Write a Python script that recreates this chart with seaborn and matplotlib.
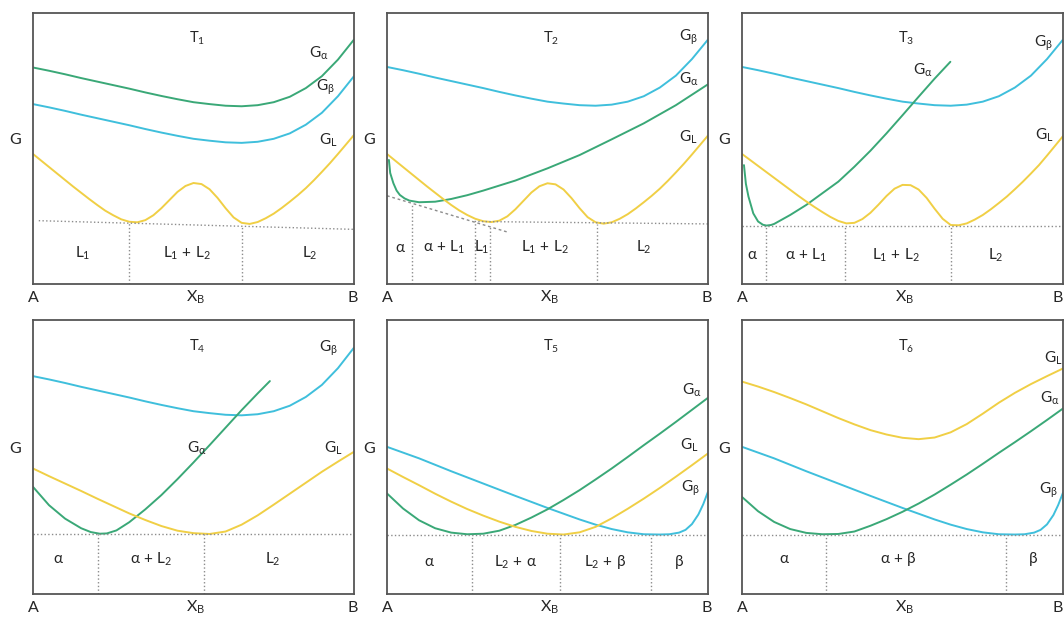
import numpy as np
import matplotlib.pyplot as plt
import seaborn as sns

sns.set_style("white")
plt.rcParams['font.family'] = ['Lato', 'DejaVu Sans']
plt.rcParams['mathtext.fontset'] = 'custom'
plt.rcParams['mathtext.rm'] = 'Lato'
plt.rcParams['mathtext.it'] = 'Lato:italic'
plt.rcParams['mathtext.fallback'] = 'stixsans'

GREEN = '#3aa877'
BLUE = '#3fbfdc'
YELLOW = '#f0cf45'
DOT = '#8c8c8c'

# sampling positions along X_B (read every 0.05 / 0.025)
grid20 = np.linspace(0, 1, 21)
grid40 = np.linspace(0, 1, 41)

# ---- T1 ----
t1_alpha = [0.799, 0.787, 0.774, 0.760, 0.747, 0.734, 0.721, 0.707, 0.694, 0.682, 0.671,
            0.664, 0.658, 0.656, 0.660, 0.671, 0.691, 0.723, 0.767, 0.828, 0.902]
t1_beta = [0.664, 0.652, 0.639, 0.625, 0.612, 0.599, 0.586, 0.572, 0.559, 0.547, 0.536,
           0.529, 0.523, 0.521, 0.525, 0.536, 0.556, 0.588, 0.632, 0.693, 0.767]
t1_liq = [0.480, 0.456, 0.432, 0.408, 0.384, 0.360, 0.337, 0.314, 0.292, 0.271, 0.254,
          0.239, 0.230, 0.228, 0.236, 0.254, 0.280, 0.310, 0.340, 0.362, 0.373,
          0.369, 0.350, 0.318, 0.280, 0.246, 0.226, 0.222, 0.229, 0.243, 0.260,
          0.281, 0.304, 0.328, 0.354, 0.383, 0.414, 0.446, 0.480, 0.515, 0.550]

# ---- T2 ----
t2_beta = [0.801, 0.789, 0.776, 0.762, 0.749, 0.736, 0.723, 0.709, 0.696, 0.684, 0.673,
           0.666, 0.660, 0.658, 0.662, 0.673, 0.693, 0.725, 0.769, 0.830, 0.902]
t2_x_alpha = [0.006, 0.01, 0.02, 0.03, 0.04, 0.055, 0.07, 0.1, 0.15, 0.2, 0.25, 0.3, 0.4, 0.5,
              0.6, 0.7, 0.8, 0.9, 1.0]
t2_alpha = [0.458, 0.410, 0.372, 0.345, 0.329, 0.316, 0.308, 0.302, 0.304, 0.314, 0.328, 0.345,
            0.382, 0.427, 0.476, 0.534, 0.593, 0.660, 0.737]
t2_liq = [0.480, 0.456, 0.432, 0.408, 0.384, 0.360, 0.337, 0.314, 0.292, 0.272, 0.255,
          0.241, 0.232, 0.229, 0.234, 0.250, 0.276, 0.307, 0.338, 0.361, 0.372,
          0.368, 0.349, 0.317, 0.280, 0.247, 0.228, 0.223, 0.228, 0.241, 0.258,
          0.279, 0.302, 0.326, 0.352, 0.381, 0.412, 0.444, 0.478, 0.513, 0.548]

# ---- T3 ----
t3_beta = [0.801, 0.789, 0.776, 0.762, 0.749, 0.736, 0.723, 0.709, 0.696, 0.684, 0.673,
           0.666, 0.660, 0.658, 0.662, 0.673, 0.693, 0.725, 0.769, 0.830, 0.902]
t3_x_alpha = [0.006, 0.012, 0.02, 0.035, 0.05, 0.065, 0.076, 0.09, 0.1, 0.15, 0.2, 0.25, 0.3,
              0.35, 0.4, 0.45, 0.5, 0.55, 0.6, 0.649]
t3_alpha = [0.439, 0.370, 0.323, 0.261, 0.231, 0.219, 0.216, 0.218, 0.222, 0.255, 0.292, 0.335,
            0.378, 0.433, 0.492, 0.556, 0.623, 0.691, 0.758, 0.820]
t3_liq = [0.480, 0.458, 0.436, 0.414, 0.392, 0.370, 0.348, 0.326, 0.305, 0.285, 0.266,
          0.248, 0.233, 0.224, 0.226, 0.240, 0.263, 0.293, 0.325, 0.352, 0.366,
          0.365, 0.349, 0.318, 0.278, 0.241, 0.218, 0.217, 0.224, 0.238, 0.255,
          0.276, 0.299, 0.323, 0.350, 0.378, 0.408, 0.439, 0.474, 0.510, 0.546]

# ---- T4 ----
t4_beta = [0.795, 0.783, 0.770, 0.756, 0.743, 0.730, 0.717, 0.703, 0.690, 0.678, 0.667,
           0.660, 0.654, 0.652, 0.656, 0.667, 0.687, 0.719, 0.763, 0.824, 0.899]
t4_x_alpha = [0, 0.05, 0.1, 0.15, 0.18, 0.208, 0.23, 0.26, 0.3, 0.35, 0.4, 0.45, 0.5, 0.55,
              0.6, 0.65, 0.7, 0.738]
t4_alpha = [0.391, 0.324, 0.275, 0.240, 0.226, 0.220, 0.221, 0.232, 0.262, 0.309, 0.361, 0.419,
            0.480, 0.543, 0.607, 0.671, 0.732, 0.777]
t4_liq = [0.458, 0.430, 0.403, 0.376, 0.348, 0.321, 0.294, 0.270, 0.248, 0.231, 0.222,
          0.219, 0.228, 0.253, 0.287, 0.326, 0.366, 0.406, 0.446, 0.483, 0.519]

# ---- T5 ----
t5_x_beta = [0, .1, .2, .3, .4, .5, .6, .65, .7, .75, .8, .85, .88, .91, .93, .95, .97, .985, 1]
t5_beta = [0.537, 0.495, 0.448, 0.403, 0.358, 0.314, 0.272, 0.253, 0.237, 0.225, 0.218, 0.217,
           0.218, 0.224, 0.234, 0.255, 0.290, 0.327, 0.373]
t5_alpha = [0.367, 0.312, 0.269, 0.240, 0.224, 0.218, 0.220, 0.231, 0.252, 0.279, 0.309,
            0.343, 0.379, 0.418, 0.458, 0.500, 0.543, 0.585, 0.628, 0.672, 0.716]
t5_liq = [0.458, 0.427, 0.397, 0.366, 0.337, 0.310, 0.286, 0.264, 0.245, 0.230, 0.220,
          0.217, 0.225, 0.245, 0.276, 0.311, 0.348, 0.387, 0.428, 0.470, 0.513]

# ---- T6 ----
t6_liq = [0.775, 0.757, 0.737, 0.715, 0.692, 0.667, 0.642, 0.619, 0.598, 0.582, 0.570,
          0.565, 0.571, 0.590, 0.620, 0.658, 0.698, 0.734, 0.766, 0.795, 0.823]
t6_x_beta = [0, .1, .2, .3, .4, .5, .6, .65, .7, .75, .8, .85, .88, .91, .93, .95, .97, .985, 1]
t6_beta = [0.537, 0.495, 0.448, 0.403, 0.358, 0.314, 0.272, 0.253, 0.237, 0.225, 0.218, 0.217,
           0.218, 0.224, 0.234, 0.254, 0.288, 0.325, 0.370]
t6_alpha = [0.354, 0.302, 0.263, 0.237, 0.223, 0.218, 0.219, 0.228, 0.249, 0.273, 0.300,
            0.330, 0.363, 0.399, 0.436, 0.475, 0.515, 0.554, 0.594, 0.635, 0.677]

# common tangents and phase boundaries (x, G at the tangent point)
t1_tangent = ([0.018, 1.0], [0.234, 0.202])
t1_bounds = [(0.298, 0.225), (0.652, 0.214)]
t2_tangent = ([0.0, 0.381], [0.326, 0.190])
t2_flat = ([0.273, 1.0], [0.231, 0.222])
t2_bounds = [(0.078, 0.301), (0.274, 0.231), (0.321, 0.211), (0.653, 0.222)]
t3_flat = ([0.0, 1.0], [0.215, 0.215])
t3_bounds = [(0.076, 0.215), (0.321, 0.215), (0.651, 0.215)]
t4_flat = ([0.0, 1.0], [0.219, 0.219])
t4_bounds = [(0.203, 0.219), (0.533, 0.219)]
t5_flat = ([0.0, 1.0], [0.217, 0.217])
t5_bounds = [(0.264, 0.217), (0.538, 0.217), (0.822, 0.217)]
t6_flat = ([0.0, 1.0], [0.217, 0.217])
t6_bounds = [(0.263, 0.217), (0.821, 0.217)]

GA = r'$\mathrm{G_{\alpha}}$'
GB = r'$\mathrm{G_{\beta}}$'
GL = r'$\mathrm{G_{L}}$'

fig = plt.figure(figsize=(10.64, 6.19), dpi=100)
lefts = [0.031, 0.3637, 0.6974]
W = 0.3017
axes = [fig.add_axes([l, 0.541, W, 0.438]) for l in lefts] + \
       [fig.add_axes([l, 0.0404, W, 0.4427]) for l in lefts]


def curve(ax, x, y, c):
    sns.lineplot(x=x, y=y, ax=ax, color=c, lw=1.4, estimator=None, sort=False)


panels = [
    ('1', [(grid20, t1_alpha, GREEN), (grid20, t1_beta, BLUE), (grid40, t1_liq, YELLOW)],
     [t1_tangent], t1_bounds,
     [(GA, 0.89, 0.85), (GB, 0.91, 0.725), (GL, 0.92, 0.53)],
     [(r'$\mathrm{L_1\,+\,L_2}$', 0.481), (r'$\mathrm{L_1}$', 0.156), (r'$\mathrm{L_2}$', 0.863)], 0.114),
    ('2', [(grid20, t2_beta, BLUE), (t2_x_alpha, t2_alpha, GREEN), (grid40, t2_liq, YELLOW)],
     [t2_tangent, t2_flat], t2_bounds,
     [(GB, 0.94, 0.91), (GA, 0.94, 0.755), (GL, 0.94, 0.54)],
     [(r'$\mathrm{\alpha}$', 0.041), (r'$\mathrm{\alpha\,+\,L_1}$', 0.179), (r'$\mathrm{L_1}$', 0.296),
      (r'$\mathrm{L_1\,+\,L_2}$', 0.493), (r'$\mathrm{L_2}$', 0.799)], 0.135),
    ('3', [(grid20, t3_beta, BLUE), (t3_x_alpha, t3_alpha, GREEN), (grid40, t3_liq, YELLOW)],
     [t3_flat], t3_bounds,
     [(GA, 0.564, 0.79), (GB, 0.938, 0.887), (GL, 0.943, 0.55)],
     [(r'$\mathrm{\alpha}$', 0.034), (r'$\mathrm{\alpha\,+\,L_1}$', 0.20), (r'$\mathrm{L_1\,+\,L_2}$', 0.48),
      (r'$\mathrm{L_2}$', 0.79)], 0.108),
    ('4', [(grid20, t4_beta, BLUE), (t4_x_alpha, t4_alpha, GREEN), (grid20, t4_liq, YELLOW)],
     [t4_flat], t4_bounds,
     [(GA, 0.509, 0.53), (GB, 0.92, 0.895), (GL, 0.935, 0.53)],
     [(r'$\mathrm{\alpha}$', 0.078), (r'$\mathrm{\alpha\,+\,L_2}$', 0.369), (r'$\mathrm{L_2}$', 0.748)], 0.128),
    ('5', [(t5_x_beta, t5_beta, BLUE), (grid20, t5_alpha, GREEN), (grid20, t5_liq, YELLOW)],
     [t5_flat], t5_bounds,
     [(GA, 0.951, 0.744), (GL, 0.941, 0.543), (GB, 0.946, 0.385)],
     [(r'$\mathrm{\alpha}$', 0.133), (r'$\mathrm{L_2\,+\,\alpha}$', 0.402), (r'$\mathrm{L_2\,+\,\beta}$', 0.679),
      (r'$\mathrm{\beta}$', 0.91)], 0.117),
    ('6', [(grid20, t6_liq, YELLOW), (t6_x_beta, t6_beta, BLUE), (grid20, t6_alpha, GREEN)],
     [t6_flat], t6_bounds,
     [(GL, 0.969, 0.86), (GA, 0.958, 0.714), (GB, 0.953, 0.379)],
     [(r'$\mathrm{\alpha}$', 0.133), (r'$\mathrm{\alpha\,+\,\beta}$', 0.486), (r'$\mathrm{\beta}$', 0.906)], 0.127),
]

for k, (ax, (num, curves, lines, bounds, glabels, regions, ry)) in enumerate(zip(axes, panels)):
    for x, y, c in curves:
        curve(ax, x, y, c)
    for i, ln in enumerate(lines):
        ls = (0, (2, 2)) if (num == '2' and i == 0) else ':'
        ax.plot(ln[0], ln[1], color=DOT, lw=1.0, ls=ls)
    for xb, yb in bounds:
        ax.plot([xb, xb], [0, yb], color=DOT, lw=1.0, ls=':')
    ax.set_xlim(0, 1)
    ax.set_ylim(0, 1)
    ax.set_xticks([])
    ax.set_yticks([])
    ax.set_xlabel('')
    ax.set_ylabel('')
    for s in ax.spines.values():
        s.set_color('#555555')
        s.set_linewidth(1.3)
    ax.text(0.51, 0.905, r'$\mathrm{T_%s}$' % num, ha='center', va='center', fontsize=10.5)
    for txt, gx, gy in glabels:
        ax.text(gx, gy, txt, ha='center', va='center', fontsize=11)
    for txt, rx in regions:
        ax.text(rx, ry, txt, ha='center', va='center', fontsize=11)
    ax.text(-0.055, 0.53, 'G', transform=ax.transAxes, ha='center', va='center', fontsize=11.5, clip_on=False)
    ax.text(0.0, -0.05, 'A', transform=ax.transAxes, ha='center', va='center', fontsize=11.5, clip_on=False)
    last_col = (k % 3 == 2)
    ax.text(0.998 if last_col else 0.995, -0.05, 'B', transform=ax.transAxes,
            ha='right' if last_col else 'center', va='center', fontsize=11.5, clip_on=False)
    ax.text(0.505, -0.05, r'$\mathrm{X_B}$', transform=ax.transAxes, ha='center', va='center',
            fontsize=11.5, clip_on=False)

fig.savefig('out.png', dpi=100)
